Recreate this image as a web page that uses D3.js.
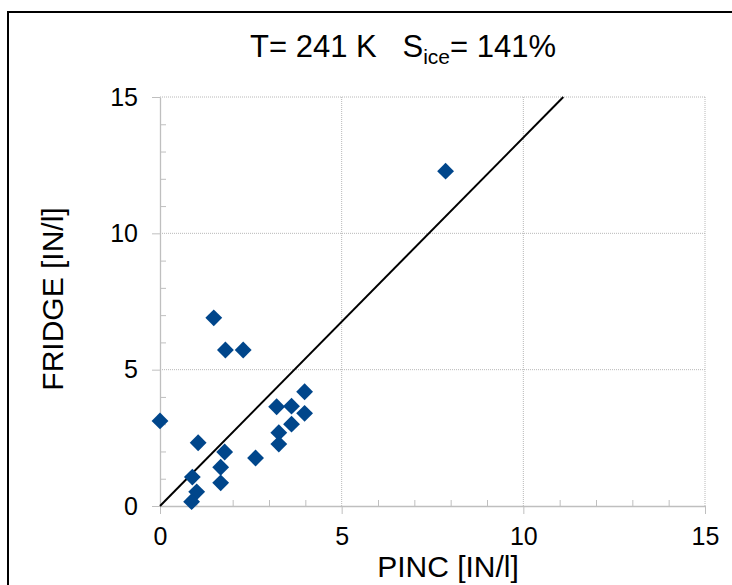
<!DOCTYPE html>
<html>
<head>
<meta charset="utf-8">
<script src="https://cdn.jsdelivr.net/npm/d3@7"></script>
<style>
  html, body { margin: 0; padding: 0; background: #fff; }
  svg { display: block; font-family: "Liberation Sans", Arial, sans-serif; }
  .title { white-space: pre; }
</style>
</head>
<body>
<svg id="chart" width="732" height="585"></svg>
<script>
// ---- data ----
const pincValues   = [0.00, 1.05, 0.89, 1.01, 0.87, 1.67, 1.67, 1.78, 2.63, 3.21, 3.62, 3.98, 3.98, 3.62, 3.27, 3.27, 1.48, 1.80, 2.29, 7.86];
const fridgeValues = [3.12, 2.32, 1.06, 0.52, 0.16, 1.42, 0.85, 1.98, 1.76, 3.64, 3.66, 4.19, 3.40, 3.00, 2.69, 2.27, 6.90, 5.72, 5.72, 12.28];
const majorTicks = [0, 5, 10, 15];
const minorTicks = [1, 2, 3, 4, 6, 7, 8, 9, 11, 12, 13, 14];
const refLine = [[0, 0], [11.1, 15]];
const titleMain = "T= 241 K   S";
const titleSub = "ice";
const titleEnd = "= 141%";
const xTitle = "PINC [IN/l]";
const yTitle = "FRIDGE [IN/l]";

(function () {
// ---- layout ----
const svg = d3.select("#chart");
const pLeft = 160, pRight = 705, pTop = 97, pBottom = 506;
const x = d3.scaleLinear().domain([0, 15]).range([pLeft, pRight]);
const y = d3.scaleLinear().domain([0, 15]).range([pBottom, pTop]);

// outer border
svg.append("rect").attr("x", 8).attr("y", 12).attr("width", 740).attr("height", 600)
  .attr("fill", "none").attr("stroke", "#000").attr("stroke-width", 2);

// gridlines (dotted)
const grid = svg.append("g").attr("stroke", "#b8b8b8").attr("stroke-width", 1).attr("stroke-dasharray", "1,1");
majorTicks.filter(d => d > 0).forEach(d => {
  grid.append("line").attr("x1", x(d)).attr("x2", x(d)).attr("y1", y(0)).attr("y2", y(15));
  grid.append("line").attr("x1", x(0)).attr("x2", x(15)).attr("y1", y(d)).attr("y2", y(d));
});

// minor ticks (inside)
const xMinor = d3.axisTop(x).tickValues(minorTicks).tickSize(6).tickFormat("");
const yMinor = d3.axisRight(y).tickValues(minorTicks).tickSize(6).tickFormat("");
const gxm = svg.append("g").attr("transform", `translate(0,${pBottom})`).call(xMinor);
const gym = svg.append("g").attr("transform", `translate(${pLeft},0)`).call(yMinor);
[gxm, gym].forEach(g => { g.select(".domain").remove(); g.selectAll("line").attr("stroke", "#bfbfbf"); });

// major axes
const xAxis = d3.axisBottom(x).tickValues(majorTicks).tickSize(8).tickSizeOuter(0).tickPadding(13).tickFormat(d3.format("d"));
const yAxis = d3.axisLeft(y).tickValues(majorTicks).tickSize(8).tickSizeOuter(0).tickPadding(14).tickFormat(d3.format("d"));
const gx = svg.append("g").attr("transform", `translate(0,${pBottom})`).call(xAxis);
const gy = svg.append("g").attr("transform", `translate(${pLeft},0)`).call(yAxis);
[gx, gy].forEach(g => {
  g.select(".domain").attr("stroke", "#bfbfbf").attr("stroke-width", 1.3);
  g.selectAll(".tick line").attr("stroke", "#bfbfbf");
  g.selectAll(".tick text").attr("fill", "#000").attr("font-size", 25)
    .attr("font-family", "'Liberation Sans', Arial, sans-serif");
});

// reference line
svg.append("line")
  .attr("x1", x(refLine[0][0])).attr("y1", y(refLine[0][1]))
  .attr("x2", x(refLine[1][0])).attr("y2", y(refLine[1][1]))
  .attr("stroke", "#000").attr("stroke-width", 2);

// points (diamonds)
const pts = pincValues.map((v, i) => [v, fridgeValues[i]]);
const sym = d3.symbol().type(d3.symbolDiamond2).size(2 * 9.5 * 9.5);
svg.append("g").selectAll("path").data(pts).join("path")
  .attr("d", sym)
  .attr("transform", d => `translate(${x(d[0])},${y(d[1])})`)
  .attr("fill", "#00468b");

// title
const t = svg.append("text").attr("class", "title").attr("xml:space", "preserve")
  .attr("x", 250).attr("y", 57).attr("font-size", 31).attr("fill", "#000");
t.append("tspan").text(titleMain);
t.append("tspan").attr("font-size", 21).attr("dy", 7).text(titleSub);
t.append("tspan").attr("dy", -7).text(titleEnd);

// axis titles
svg.append("text").attr("x", 448).attr("y", 577).attr("text-anchor", "middle")
  .attr("font-size", 30).attr("fill", "#000").text(xTitle);
svg.append("text").attr("transform", "translate(63,299) rotate(-90)").attr("text-anchor", "middle")
  .attr("font-size", 30).attr("fill", "#000").text(yTitle);
})();
</script>
</body>
</html>
